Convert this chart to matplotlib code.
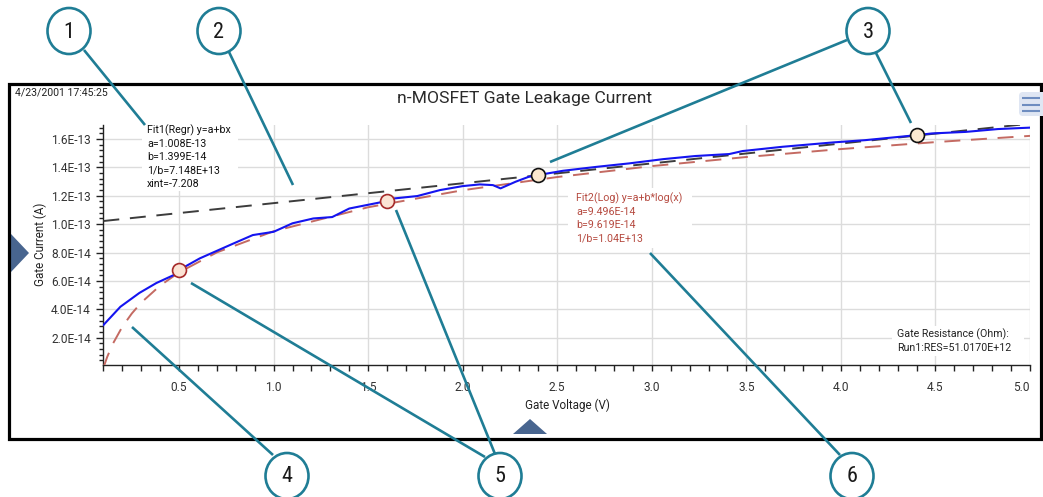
import matplotlib
matplotlib.use('Agg')
import matplotlib.pyplot as plt
from matplotlib.patches import Ellipse, Polygon, FancyBboxPatch, Rectangle
from matplotlib.ticker import MultipleLocator, FixedLocator

# ---------------- data ----------------
voltage = [0.10, 0.19, 0.29, 0.38, 0.47, 0.50, 0.61, 0.79, 0.89, 1.00, 1.10, 1.21,
           1.31, 1.40, 1.60, 1.63, 1.76, 1.88, 2.00, 2.09, 2.16, 2.20, 2.28, 2.35,
           2.40, 2.53, 2.71, 2.88, 3.06, 3.23, 3.41, 3.48, 3.69, 3.96, 4.13, 4.40,
           4.48, 4.66, 4.83, 5.00]
current_e14 = [2.89, 4.18, 5.15, 5.85, 6.40, 6.77, 7.59, 8.65, 9.23, 9.46, 10.06, 10.40,
               10.50, 11.10, 11.63, 11.80, 11.98, 12.40, 12.68, 12.80, 12.75, 12.52, 12.99, 13.34,
               13.46, 13.76, 14.04, 14.28, 14.58, 14.80, 14.94, 15.15, 15.45, 15.76, 15.92, 16.27,
               16.39, 16.50, 16.70, 16.80]

fit1_x = [0.1, 5.0]
fit1_e14 = [10.22, 17.08]

fit2_x = [0.10, 0.12, 0.15, 0.20, 0.25, 0.30, 0.40, 0.50, 0.70, 1.00, 1.50, 2.00,
          2.50, 3.00, 3.50, 4.00, 4.50, 5.00]
fit2_e14 = [-0.12, 0.64, 1.57, 2.77, 3.70, 4.47, 5.67, 6.60, 8.01, 9.50, 11.19, 12.39,
            13.32, 14.09, 14.73, 15.29, 15.78, 16.22]

mark_red_x = [0.5, 1.6]
mark_red_e14 = [6.77, 11.63]
mark_blk_x = [2.4, 4.4]
mark_blk_e14 = [13.46, 16.27]

x_ticks = [0.5, 1.0, 1.5, 2.0, 2.5, 3.0, 3.5, 4.0, 4.5, 5.0]
x_tick_labels = ['0.5', '1.0', '1.5', '2.0', '2.5', '3.0', '3.5', '4.0', '4.5', '5.0']
y_ticks_e14 = [2, 4, 6, 8, 10, 12, 14, 16]
y_tick_labels = ['2.0E-14', '4.0E-14', '6.0E-14', '8.0E-14', '1.0E-13', '1.2E-13',
                 '1.4E-13', '1.6E-13']

title = 'n-MOSFET Gate Leakage Current'
timestamp = '4/23/2001 17:45:25'
x_label = 'Gate Voltage (V)'
y_label = 'Gate Current (A)'
fit1_lines = ['Fit1(Regr) y=a+bx', 'a=1.008E-13', 'b=1.399E-14', '1/b=7.148E+13', 'xint=-7.208']
fit2_lines = ['Fit2(Log) y=a+b*log(x)', 'a=9.496E-14', 'b=9.619E-14', '1/b=1.04E+13']
res_lines = ['Gate Resistance (Ohm):', 'Run1:RES=51.0170E+12']
callout_labels = ['1', '2', '3', '4', '5', '6']

E14 = 1e-14
current = [v * E14 for v in current_e14]
fit1_y = [v * E14 for v in fit1_e14]
fit2_y = [v * E14 for v in fit2_e14]

# ---------------- figure ----------------
W, H = 1043, 497
plt.rcParams['font.family'] = ['Roboto', 'DejaVu Sans']
fig = plt.figure(figsize=(W / 100, H / 100), dpi=100)
fig.patch.set_facecolor('white')

L, R, T, B = 103.4, 1030.0, 124.8, 364.5
ax = fig.add_axes([L / W, 1 - B / H, (R - L) / W, (B - T) / H])
ax.set_xlim(0.1, 5.0)
ax.set_ylim(0.11e-14, 17.0e-14)

grid_c = '#dcdcdc'
ax.xaxis.set_major_locator(FixedLocator(x_ticks))
ax.xaxis.set_minor_locator(MultipleLocator(0.1))
ax.set_xticklabels(x_tick_labels)
ax.yaxis.set_major_locator(FixedLocator([v * E14 for v in y_ticks_e14]))
ax.yaxis.set_minor_locator(MultipleLocator(0.4e-14))
ax.set_yticklabels(y_tick_labels)
ax.grid(True, which='major', color=grid_c, lw=1.0)
ax.set_axisbelow(True)
for s in ['top', 'right']:
    ax.spines[s].set_visible(False)
for s in ['left', 'bottom']:
    ax.spines[s].set_color('#222222')
    ax.spines[s].set_linewidth(1.0)
ax.tick_params(axis='x', which='both', direction='out', length=4, width=1,
               color='#222222', labelsize=8.6, labelcolor='#333333', pad=8)
ax.tick_params(axis='y', which='major', direction='out', length=5, width=1,
               color='#222222', labelsize=8.6, labelcolor='#333333', pad=4)
ax.tick_params(axis='y', which='minor', direction='out', length=3, width=1, color='#222222')
for lab in ax.get_xticklabels():
    if lab.get_text() == '5.0':
        lab.set_ha('right')

# fit lines and data
ax.plot(fit1_x, fit1_y, color='#3c3c3c', lw=1.4, dashes=(8.2, 5.5), zorder=3)
ax.plot(fit2_x, fit2_y, color='#c46a62', lw=1.4, dashes=(8.2, 5.5), zorder=3)
ax.plot(voltage, current, color='#1414f0', lw=1.5, zorder=4)
ax.plot(mark_red_x, [v * E14 for v in mark_red_e14], 'o', ms=10, mfc='#fbe3d4',
        mec='#a52a2a', mew=1.2, zorder=5)
ax.plot(mark_blk_x, [v * E14 for v in mark_blk_e14], 'o', ms=10, mfc='#fbe8cf',
        mec='#111111', mew=1.2, zorder=5)

# ---------------- overlay (pixel coordinates) ----------------
ov = fig.add_axes([0, 0, 1, 1])
ov.set_xlim(0, W)
ov.set_ylim(H, 0)
ov.axis('off')
ov.patch.set_alpha(0)

# frame
ov.add_patch(Rectangle((9, 84), 1032, 355, fill=False, ec='black', lw=2.3, zorder=2))

# texts
ov.text(525, 98, title, ha='center', va='center', fontsize=12.6, color='#2a2a2a')
ov.text(15, 93, timestamp, ha='left', va='center', fontsize=7.6, color='#222222')
ov.text(567, 405, x_label, ha='center', va='center', fontsize=8.4, color='#222222')
ov.text(40, 244, y_label, ha='center', va='center', rotation=90, fontsize=8.4, color='#222222')

ov.add_patch(Rectangle((142, 121), 96, 70, fc='white', ec='none', zorder=3))
for i, t in enumerate(fit1_lines):
    ov.text(147, 130 + i * 13.6, t, ha='left', va='center', fontsize=7.7, color='#111111', zorder=4)

ov.add_patch(Rectangle((568, 188), 124, 60, fc='white', ec='none', zorder=3))
for i, t in enumerate(fit2_lines):
    ov.text(576, 198.3 + i * 13.5, t, ha='left', va='center', fontsize=7.7, color='#b5493f', zorder=4)

ov.add_patch(Rectangle((892, 326), 132, 30, fc='white', ec='none', zorder=3))
for i, t in enumerate(res_lines):
    ov.text(897, 334 + i * 14, t, ha='left', va='center', fontsize=7.7, color='#222222', zorder=4)

# navigation triangles
tri_c = '#48658f'
ov.add_patch(Polygon([(11, 234), (11, 272), (29, 253)], closed=True, fc=tri_c, ec='none'))
ov.add_patch(Polygon([(513, 434), (547, 434), (530, 419)], closed=True, fc=tri_c, ec='none'))

# menu icon
ov.add_patch(FancyBboxPatch((1019, 92), 30, 24, boxstyle='round,pad=0,rounding_size=4',
                            fc='#dfe6f3', ec='none', zorder=3))
for yy in (98, 104.5, 111):
    ov.plot([1022, 1040], [yy, yy], color='#6e8dc0', lw=1.5, zorder=4, solid_capstyle='butt')

# callouts
teal = '#1f7d95'
leaders = [((84, 50), (145, 125)),
           ((229, 52), (293, 185)),
           ((847, 40), (550, 162)),
           ((876, 53), (911, 123)),
           ((273, 455), (132, 327)),
           ((485, 457), (191, 283)),
           ((495, 454), (396, 210)),
           ((840, 455), (650, 253))]
for (x0, y0), (x1, y1) in leaders:
    ov.plot([x0, x1], [y0, y1], color=teal, lw=1.9, zorder=6, solid_capstyle='butt')

circles = [(69, 31), (219, 31), (868, 31), (287, 476), (500, 476), (852, 476)]
for (cx, cy), lab in zip(circles, callout_labels):
    ov.add_patch(Ellipse((cx, cy), 43, 46, fc='white', ec=teal, lw=1.9, zorder=7))
    ov.text(cx, cy + 1, lab, ha='center', va='center', fontsize=16, color='#1a1a1a',
            family=['Liberation Sans Narrow', 'Roboto Condensed', 'Roboto'], zorder=8)

fig.savefig('out.png', dpi=100, facecolor='white')
